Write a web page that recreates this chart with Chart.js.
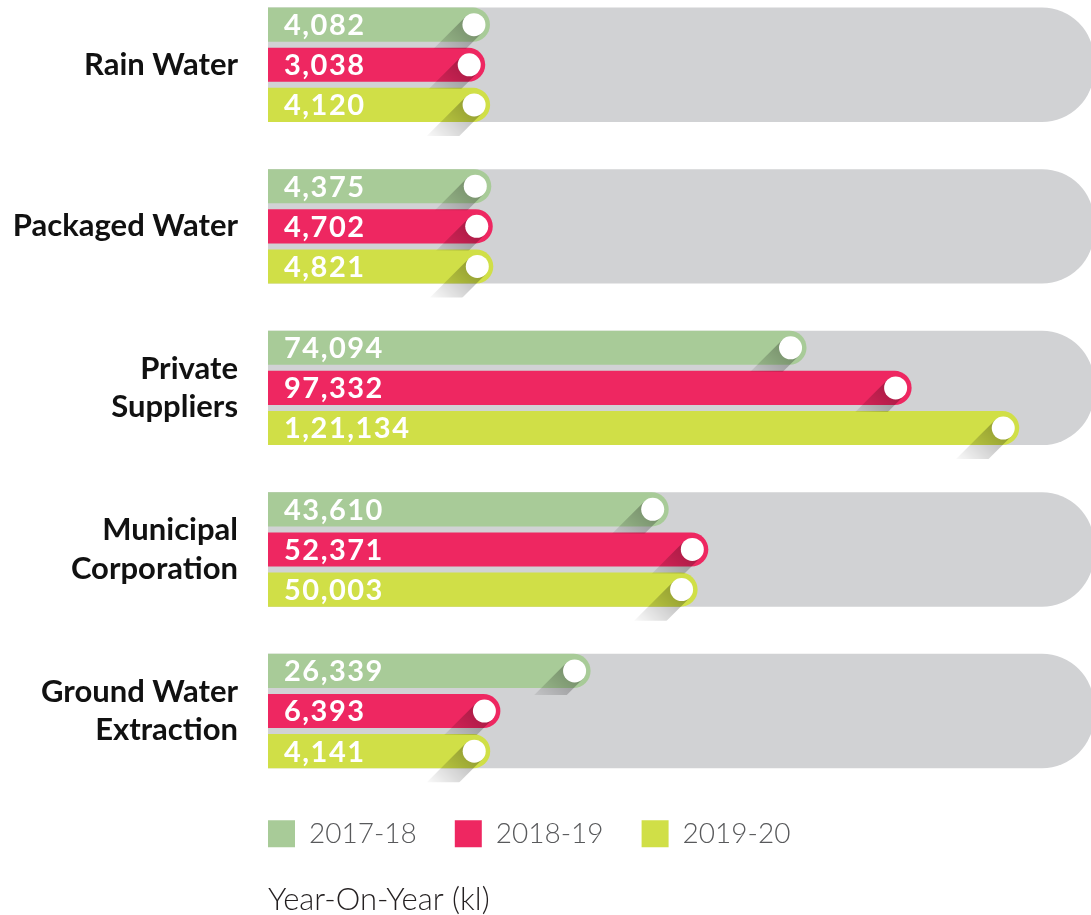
<!DOCTYPE html>
<html>
<head>
<meta charset="utf-8">
<script src="https://cdn.jsdelivr.net/npm/chart.js@4.4.1/dist/chart.umd.min.js"></script>
<style>
  html, body { margin: 0; padding: 0; background: #fff; overflow: hidden; }
  #wrap { position: relative; width: 1091px; height: 935px; margin-top: -16px; }
</style>
</head>
<body>
<div id="wrap"><canvas id="waterChart"></canvas></div>
<script>
// water sourced, by year (kl)
const sources = ['Rain Water', 'Packaged Water', ['Private', 'Suppliers'], ['Municipal', 'Corporation'], ['Ground Water', 'Extraction']];
const years = ['2017-18', '2018-19', '2019-20'];
const fy2017 = [4082, 4375, 74094, 43610, 26339];
const fy2018 = [3038, 4702, 97332, 52371, 6393];
const fy2019 = [4120, 4821, 121134, 50003, 4141];

const colors = ['#a8cb98', '#ee2761', '#d0df47'];
const AXIS_MIN = -45000;
const AXIS_MAX = 137000;

// 1,21,134 style grouping
function inr(n) {
  const s = String(n);
  if (s.length <= 3) return s;
  const rest = s.slice(0, -3).replace(/\B(?=(\d{2})+(?!\d))/g, ',');
  return rest + ',' + s.slice(-3);
}

const barMarks = {
  id: 'barMarks',
  afterLayout(chart) {
    // legend starts flush with the bars
    const lg = chart.legend;
    lg.left = chart.chartArea.left - lg.options.labels.padding;
    lg.top -= 10;
    lg.bottom -= 10;
  },
  beforeDatasetsDraw(chart) {
    const ctx = chart.ctx;
    const first = chart.getDatasetMeta(0).data;
    const last = chart.getDatasetMeta(chart.data.datasets.length - 1).data;
    const right = chart.chartArea.right + 3;
    ctx.save();
    ctx.fillStyle = '#d1d2d4';
    first.forEach((bar, i) => {
      const top = bar.y - bar.height / 2;
      const bottom = last[i].y + last[i].height / 2;
      ctx.beginPath();
      ctx.roundRect(bar.base, top, right - bar.base, bottom - top, [0, 52, 52, 0]);
      ctx.fill();
    });
    ctx.restore();
  },
  afterDatasetsDraw(chart) {
    const ctx = chart.ctx;
    const lastSet = chart.data.datasets.length - 1;
    chart.data.datasets.forEach((ds, d) => {
      chart.getDatasetMeta(d).data.forEach((bar, i) => {
        const r = 11.5;
        const cx = bar.x - 16;
        const cy = bar.y;
        const top = bar.y - bar.height / 2;

        // long shadow behind the knob
        ctx.save();
        ctx.beginPath();
        ctx.rect(bar.base, top, bar.x - bar.base, bar.height + (d === lastSet ? 14 : 7));
        ctx.clip();
        const k = r / Math.SQRT2;
        const L = 42;
        const g = ctx.createLinearGradient(cx, cy, cx - L, cy + L);
        g.addColorStop(0, 'rgba(0,0,0,0.3)');
        g.addColorStop(1, 'rgba(0,0,0,0)');
        ctx.fillStyle = g;
        ctx.beginPath();
        ctx.moveTo(cx + k, cy + k);
        ctx.lineTo(cx - k, cy - k);
        ctx.lineTo(cx - k - L, cy - k + L);
        ctx.lineTo(cx + k - L, cy + k + L);
        ctx.closePath();
        ctx.fill();
        ctx.restore();

        // knob
        ctx.save();
        ctx.fillStyle = '#ffffff';
        ctx.beginPath();
        ctx.arc(cx, cy, r, 0, Math.PI * 2);
        ctx.fill();

        // value
        ctx.font = 'bold 29px Lato';
        ctx.letterSpacing = '1.5px';
        ctx.textAlign = 'left';
        ctx.textBaseline = 'middle';
        ctx.fillText(inr(ds.data[i]), bar.base + 16, cy + 1);
        ctx.restore();
      });
    });
  }
};

const ctx = document.getElementById('waterChart').getContext('2d');
const waterChart = new Chart(ctx, {
  type: 'bar',
  data: {
    labels: sources,
    datasets: [
      { label: years[0], data: fy2017, backgroundColor: colors[0] },
      { label: years[1], data: fy2018, backgroundColor: colors[1] },
      { label: years[2], data: fy2019, backgroundColor: colors[2] }
    ]
  },
  options: {
    indexAxis: 'y',
    responsive: true,
    maintainAspectRatio: false,
    animation: false,
    datasets: {
      bar: {
        base: AXIS_MIN,
        borderWidth: 0,
        borderRadius: 17,
        borderSkipped: 'start',
        categoryPercentage: 120 / 161,
        barPercentage: 34 / 40
      }
    },
    layout: { padding: 0 },
    scales: {
      x: { display: false, min: AXIS_MIN, max: AXIS_MAX },
      y: {
        grid: { display: false, drawTicks: false },
        border: { display: false },
        ticks: {
          padding: 30,
          color: '#111111',
          font: { family: 'Lato', weight: 'bold', size: 31, lineHeight: 1.23 }
        },
        afterFit(scale) {
          scale.width = 268;
          scale.paddingTop = 0;
          scale.paddingBottom = 0;
        }
      }
    },
    plugins: {
      tooltip: { enabled: false },
      legend: {
        position: 'bottom',
        align: 'start',
        fullSize: false,
        labels: {
          boxWidth: 27,
          boxHeight: 27,
          padding: 38,
          color: '#58595b',
          font: { family: 'Lato', size: 28, weight: '300' }
        }
      },
      title: {
        display: true,
        text: 'Year-On-Year (kl)',
        position: 'bottom',
        align: 'start',
        fullSize: false,
        color: '#231f20',
        font: { family: 'Lato', size: 31, weight: '300', lineHeight: 1.2 },
        padding: { top: 14, bottom: 0 }
      }
    }
  },
  plugins: [barMarks]
});
</script>
</body>
</html>
